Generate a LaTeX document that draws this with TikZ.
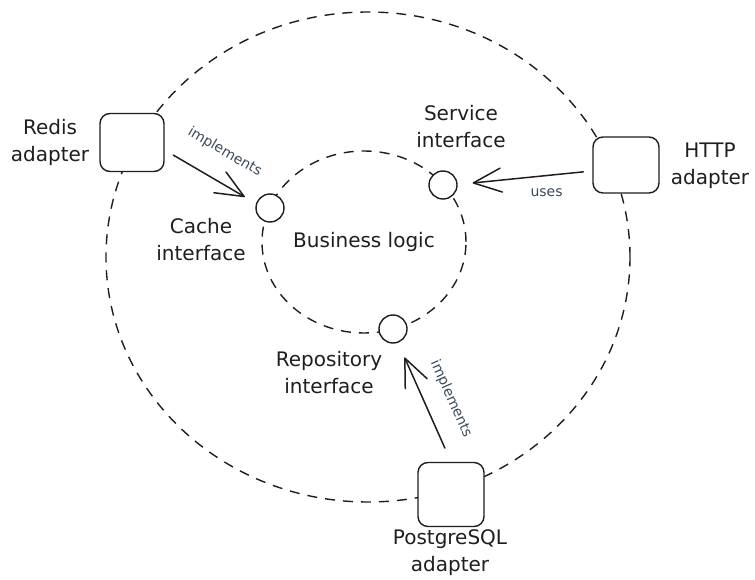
\documentclass[tikz,border=0pt]{standalone}
\usepackage{fontspec}
\setmainfont{DejaVu Sans}
\usetikzlibrary{arrows.meta,shapes.geometric}
\definecolor{ink}{HTML}{1E1E1E}
\definecolor{note}{HTML}{3B4A5A}
\begin{document}
\begin{tikzpicture}[x=1pt,y=-1pt,
  ring/.style={ellipse, draw=ink, line width=1.4pt, dash pattern=on 10pt off 8pt, inner sep=0pt},
  adapter/.style={draw=ink, fill=white, line width=1.4pt, rounded corners=10pt, inner sep=0pt},
  port/.style={circle, draw=ink, fill=white, line width=1.4pt, minimum size=28pt, inner sep=0pt},
  caption/.style={text=ink, font=\fontsize{20}{27}\selectfont, align=center},
  edgenote/.style={text=note, font=\fontsize{14}{17}\selectfont, inner sep=0pt},
  link/.style={draw=ink, line width=1.5pt, line cap=round,
    -{Straight Barb[length=28pt,width=24pt,round]}}]
\useasboundingbox (0,0) rectangle (755,580);

% layers: outer adapter ring and inner domain core
\node[ring, minimum width=524pt, minimum height=490pt] (outer) at (368,257) {};
\node[ring, minimum width=204pt, minimum height=182pt, caption] (core) at (364,242) {Business logic};

% adapters
\node[adapter, minimum width=64pt, minimum height=58pt] (rb) at (132,142.5) {};
\node[adapter, minimum width=66pt, minimum height=56pt] (hb) at (626,165) {};
\node[adapter, minimum width=66pt, minimum height=64pt] (pb) at (451,494.5) {};

% ports on the core
\node[port] (cc) at (270,208) {};
\node[port] (sc) at (443,185) {};
\node[port] (rc) at (393,329) {};

% captions
\node[caption] (rbl) at (50,142) {Redis\\adapter};
\node[caption] (hbl) at (710,166) {HTTP\\adapter};
\node[caption] (pbl) at (450,553) {PostgreSQL\\adapter};
\node[caption] (ccl) at (201,240) {Cache\\interface};
\node[caption] (scl) at (461,127) {Service\\interface};
\node[caption] (rcl) at (329,373) {Repository\\interface};

% dependencies
\draw[link, shorten <=10pt, shorten >=13pt] (rb.-13) -- (cc.162)
  node[edgenote, sloped, above=21pt, pos=0.5] {implements};
\draw[link, shorten <=9pt, shorten >=15pt] (hb.190) -- (sc.2)
  node[edgenote, below=12pt, pos=0.34] {uses};
\draw[link, shorten <=15pt, shorten >=16pt] (pb.north) -- (rc.-70)
  node[edgenote, sloped, above=18pt, pos=0.44] {implements};
\end{tikzpicture}
\end{document}
